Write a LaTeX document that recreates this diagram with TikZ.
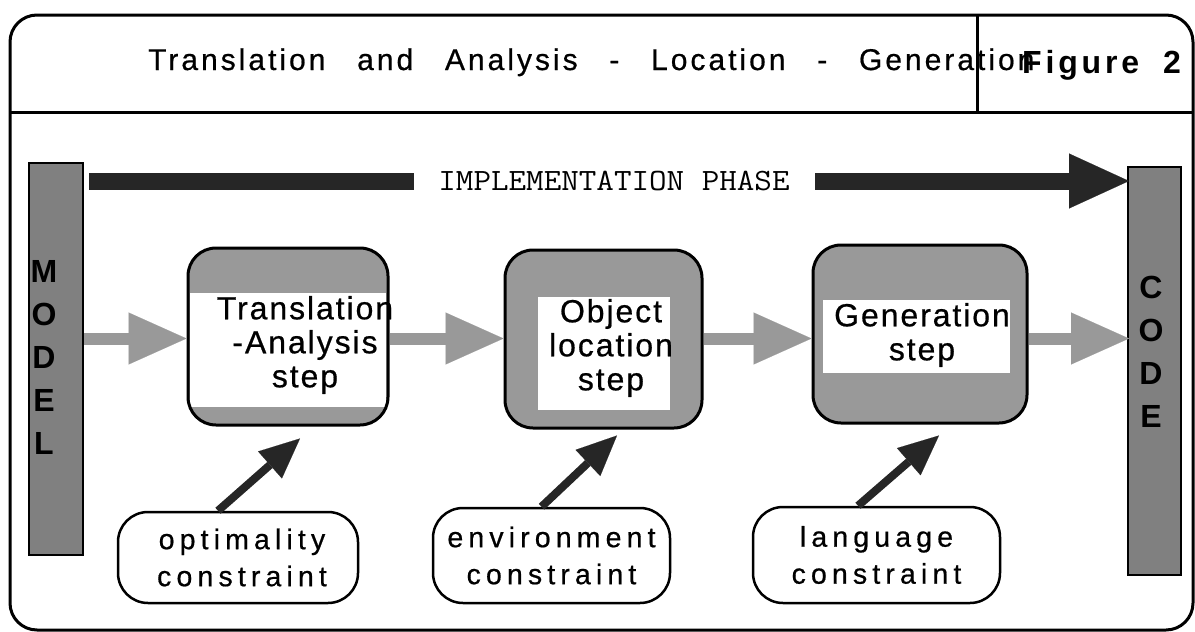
\documentclass[tikz,border=0pt]{standalone}
\usepackage{fontspec}
\setmainfont{Liberation Sans}
\newfontfamily\titlefont{Liberation Sans}[LetterSpace=10,WordSpace=2.8,FakeBold=0.6]
\newfontfamily\figfont{Liberation Sans}[LetterSpace=12]
\newfontfamily\stepfont{Liberation Sans}[LetterSpace=6,FakeBold=0.6]
\newfontfamily\consfont{Liberation Sans}[LetterSpace=18,FakeBold=0.6]
\newfontfamily\phasefont{Latin Modern Mono}[FakeStretch=1.1]
\usetikzlibrary{arrows.meta,calc}
\definecolor{stepgray}{gray}{0.6}
\definecolor{flowgray}{gray}{0.6}
\definecolor{bargray}{gray}{0.5}
\definecolor{darkarrow}{gray}{0.15}
\tikzset{
  frame/.style={line width=3pt, rounded corners=27pt},
  bar/.style={draw, line width=2pt, fill=bargray, inner sep=0pt, rectangle},
  barletters/.style={align=center, inner sep=0pt, font=\bfseries\fontsize{32}{43}\selectfont},
  stepbox/.style={draw, line width=3pt, fill=stepgray, rounded corners=28pt, inner sep=0pt, rectangle},
  whitepart/.style n args={4}{path picture={\fill[white, sharp corners] ($(path picture bounding box.north west)+(#1,#2)$) rectangle ($(path picture bounding box.south east)+(-#3,-#4)$);}},
  steptext/.style={align=center, inner sep=0pt, font=\stepfont\fontsize{32}{34}\selectfont},
  consbox/.style={draw, line width=2.5pt, rounded corners=30pt, fill=white, align=center, inner sep=0pt, font=\consfont\fontsize{28.5}{37}\selectfont},
  grayarrow/.style={line width=12pt, draw=flowgray, -{Triangle[length=58pt,width=52pt,line width=0.1pt]}},
  implarrow/.style={line width=17pt, draw=darkarrow, -{Triangle[length=60pt,width=55pt,line width=0.1pt]}},
  blackarrow/.style={line width=8pt, draw=darkarrow, -{Triangle[length=40pt,width=36pt,line width=0.1pt]}},
}
\begin{document}
\begin{tikzpicture}[x=1pt,y=-1pt]
\useasboundingbox (0,0) rectangle (1195,632);
% outer frame and title bar
\draw[frame] (10,15) rectangle (1193,630);
\coordinate (tl) at (10,112);
\coordinate (tr) at (1193,112);
\draw[line width=3pt] (tl) -- (tr);
\node[anchor=base west, inner sep=0pt, font=\titlefont\fontsize{30}{34}\selectfont] (title) at (148,70) {Translation and Analysis - Location - Generation};
\coordinate (divtop) at (977,15);
\coordinate (divbot) at (977,112);
\draw[line width=3pt] (divtop) -- (divbot);
\node[anchor=base west, inner sep=0pt, font=\figfont\bfseries\fontsize{32}{34}\selectfont] (fig) at (1022,73) {Figure\hspace{24pt}2};
% side bars
\node[bar, minimum width=54pt, minimum height=392pt] (model) at (56,359) {};
\node[barletters] (modeltxt) at (44,357.5) {M\\O\\D\\E\\L};
\node[bar, minimum width=53pt, minimum height=408pt] (code) at (1154.5,371) {};
\node[barletters] (codetxt) at (1151,351.5) {C\\O\\D\\E};
% implementation phase arrow
\coordinate (impl) at (0,181);
\draw[implarrow] ($(model.east |- impl)+(5,0)$) -- ($(code.west |- impl)+(2,0)$);
\node[fill=white, inner sep=0pt, minimum width=401pt, minimum height=22pt, font=\phasefont\fontsize{31}{34}\selectfont] (phase) at (614,181) {IMPLEMENTATION PHASE};
% step boxes
\node[stepbox, whitepart={2}{45}{2}{18}, minimum width=200pt, minimum height=177pt] (s1) at (288,336.5) {};
\node[stepbox, whitepart={33}{47}{32}{18}, minimum width=197pt, minimum height=178pt] (s2) at (603.5,339) {};
\node[stepbox, whitepart={10}{55}{17}{50}, minimum width=214pt, minimum height=178pt] (s3) at (920,334) {};
\node[steptext] (t1) at (305,345) {Translation\\-Analysis\\step};
\node[steptext] (t2) at (611,348) {Object\\location\\step};
\node[steptext] (t3) at (922,335) {Generation\\step};
% flow arrows
\coordinate (mid) at (0,338.5);
\draw[grayarrow] (model.east |- mid) -- (s1.west |- mid);
\draw[grayarrow] (s1.east |- mid) -- (s2.west |- mid);
\draw[grayarrow] (s2.east |- mid) -- (s3.west |- mid);
\draw[grayarrow] (s3.east |- mid) -- ($(code.west |- mid)+(2,0)$);
% constraint boxes
\node[consbox, minimum width=240pt, minimum height=91pt] (c1) at (238,557.5) {\hspace*{8pt}optimality\\\hspace*{8pt}constraint};
\node[consbox, minimum width=237pt, minimum height=95pt] (c2) at (551.5,555.5) {environment\\constraint};
\node[consbox, minimum width=247pt, minimum height=96pt] (c3) at (876.5,555) {language\\constraint};
% constraint arrows
\draw[blackarrow] ($(c1.north)+(-20,0)$) -- ($(s1.south)+(12,12)$);
\draw[blackarrow] ($(c2.north)+(-10,0)$) -- ($(s2.south)+(13.5,6)$);
\draw[blackarrow] ($(c3.north)+(-18.5,0)$) -- ($(s3.south)+(19,11)$);
\end{tikzpicture}
\end{document}
